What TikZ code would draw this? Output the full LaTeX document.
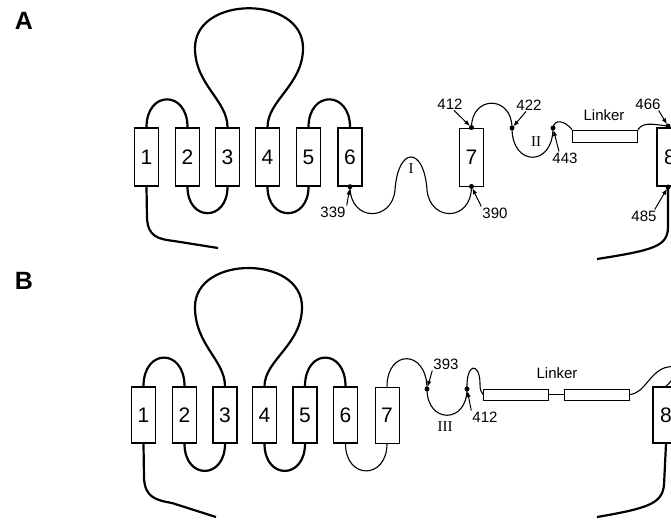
\documentclass[tikz,border=0pt]{standalone}
\usepackage{fontspec}
\setmainfont{Liberation Sans}
\newfontfamily\romfont{Liberation Serif}
\usetikzlibrary{arrows.meta}

\begin{document}
\begin{tikzpicture}[x=1pt, y=-1pt,
  helix/.style={draw, line width=1.4pt, minimum width=24pt, minimum height=58pt,
                inner sep=0pt, font=\fontsize{21}{21}\selectfont},
  thinhelix/.style={helix, line width=0.9pt},
  linkbox/.style={draw, line width=0.9pt, minimum width=65pt, minimum height=11pt,
                  inner sep=0pt},
  backbone/.style={line width=2.2pt},
  thinbone/.style={line width=1.1pt},
  site/.style={circle, fill, inner sep=0pt, minimum size=5pt},
  num/.style={font=\fontsize{15}{15}\selectfont, inner sep=1pt},
  rom/.style={font=\romfont\fontsize{15}{15}\selectfont, inner sep=1pt},
  panel/.style={font=\bfseries\fontsize{25}{25}\selectfont},
  arr/.style={-{Latex[length=6pt,width=4.5pt]}, line width=1pt, shorten >=2pt}
]
\useasboundingbox (0,0) rectangle (671,520);
\clip (0,0) rectangle (671,520);

%% Panel A
\node[panel] (labA) at (24,21) {A};

%% Helices 1-8
\node[helix]     (a1) at (146.5,157) {1};
\node[helix]     (a2) at (187.5,157) {2};
\node[helix]     (a3) at (227.5,157) {3};
\node[helix]     (a4) at (267.5,157) {4};
\node[helix]     (a5) at (308.5,157) {5};
\node[helix]     (a6) at (350,157)   {6};
\node[thinhelix] (a7) at (471.5,157) {7};
\node[helix, minimum width=26pt] (a8) at (670,157) {8};
\node[linkbox, minimum height=12pt] (linkA) at (605,136) {};

%% Marked residues
\coordinate (d339)  at (a6.south);
\coordinate (d390)  at (a7.south);
\coordinate (d412a) at (a7.north);
\coordinate (d422)  at (512,128);
\coordinate (d443)  at (553,128);
\coordinate (d466)  at (668,126);
\coordinate (d485)  at (668,187);

%% Loops between helices
\draw[backbone] (a1.south) -- (147,218) .. controls (148,236) and (157,239) .. (174,241) -- (218,248);
\draw[backbone] (a1.north) .. controls (146.5,90) and (187.5,90) .. (a2.north);
\draw[backbone] (a2.south) .. controls (187.5,222) and (227.5,222) .. (a3.south);
\draw[backbone] (a3.north) .. controls (227.5,100) and (195,85) .. (195,48)
  .. controls (195,-5) and (303,-5) .. (303,48)
  .. controls (303,85) and (267.5,100) .. (a4.north);
\draw[backbone] (a4.south) .. controls (267.5,222) and (308.5,222) .. (a5.south);
\draw[backbone] (a5.north) .. controls (308.5,90) and (350,90) .. (a6.north);
\draw[thinbone] (d339) .. controls (350,222) and (392,222) .. (395,190)
  .. controls (398,146) and (424,146) .. (427,190)
  .. controls (430,222) and (471.5,222) .. (d390);
\draw[thinbone] (d412a) .. controls (471.5,95) and (512,95) .. (d422)
  .. controls (512,167) and (553,167) .. (d443)
  .. controls (554,119) and (564,120) .. (linkA.north west);
\draw[thinbone] (linkA.north east) .. controls (644,122) and (650,124) .. (d466);
\draw[backbone] (d485) -- (668,228) .. controls (667,246) and (655,250) .. (597,259);

\foreach \d in {d339,d390,d412a,d422,d443,d466,d485}
  \node[site] at (\d) {};

%% Labels
\node[num] (l339)  at (333,212) {339};
\node[num] (l390)  at (495,213) {390};
\node[num] (l412a) at (450,104) {412};
\node[num] (l422)  at (529,105) {422};
\node[num] (l443)  at (565,158) {443};
\node[num] (l466)  at (648,104) {466};
\node[num] (l485)  at (644,216) {485};
\node[num] (tLinkA) at (604,115) {Linker};
\node[rom] (rI)  at (411,169) {I};
\node[rom] (rII) at (536,142) {II};

\draw[arr] (l339.north east) -- (d339);
\draw[arr] (l390.north west) -- (d390);
\draw[arr] ([xshift=4pt]l412a.south) -- (d412a);
\draw[arr] ([xshift=-3pt]l422.south) -- (d422);
\draw[arr] ([xshift=-6pt]l443.north) -- (d443);
\draw[arr] ([xshift=-3pt]l466.south east) -- (d466);
\draw[arr] ([xshift=-3pt]l485.north east) -- (d485);

%% Panel B
\node[panel] (labB) at (24,281) {B};

\node[helix, minimum height=56pt]     (b1) at (143.5,415) {1};
\node[helix, minimum height=56pt]     (b2) at (184.5,415) {2};
\node[helix, minimum height=56pt]     (b3) at (225,415)   {3};
\node[helix, minimum height=56pt]     (b4) at (264.5,415) {4};
\node[helix, minimum height=56pt]     (b5) at (305,415)   {5};
\node[helix, minimum height=56pt]     (b6) at (345.5,415) {6};
\node[thinhelix, minimum height=56pt] (b7) at (387,415)   {7};
\node[helix, minimum height=56pt, minimum width=26pt] (b8) at (666,415) {8};
\node[linkbox] (linkB1) at (516,394.5) {};
\node[linkbox] (linkB2) at (596.5,394.5) {};

\coordinate (d393)  at (427,389);
\coordinate (d412b) at (467,389);

\draw[backbone] (b1.south) -- (144,478) .. controls (145,497) and (155,500) .. (172,503) -- (216,517);
\draw[backbone] (b1.north) .. controls (143.5,348) and (184.5,348) .. (b2.north);
\draw[backbone] (b2.south) .. controls (184.5,480) and (225,480) .. (b3.south);
\draw[backbone] (b3.north) .. controls (225,360) and (195,345) .. (195,307)
  .. controls (195,255) and (302,255) .. (302,307)
  .. controls (302,345) and (264.5,360) .. (b4.north);
\draw[backbone] (b4.south) .. controls (264.5,480) and (305,480) .. (b5.south);
\draw[backbone] (b5.north) .. controls (305,348) and (345.5,348) .. (b6.north);
\draw[thinbone] (b6.south) .. controls (345.5,480) and (387,480) .. (b7.south);
\draw[thinbone] (b7.north) .. controls (387,349) and (427,349) .. (d393)
  .. controls (427,424) and (467,424) .. (d412b)
  .. controls (466,362) and (480,362) .. (480,384)
  .. controls (480,390) and (481,392) .. (linkB1.west);
\draw[thinbone] (linkB1.east) -- (linkB2.west);
\draw[thinbone] (linkB2.east) .. controls (645,394) and (650,370) .. (668,367)
  .. controls (684,364) and (675,378) .. (b8.north);
\draw[backbone] (b8.south) -- (664,485) .. controls (662,503) and (650,508) .. (597,517);

\foreach \d in {d393,d412b}
  \node[site] at (\d) {};

\node[num] (l393)  at (446,364) {393};
\node[num] (l412b) at (485,417) {412};
\node[num] (tLinkB) at (557,373) {Linker};
\node[rom] (rIII) at (445,427) {III};

\draw[arr] (l393.south west) -- (d393);
\draw[arr] (l412b.north west) -- (d412b);
\end{tikzpicture}
\end{document}
